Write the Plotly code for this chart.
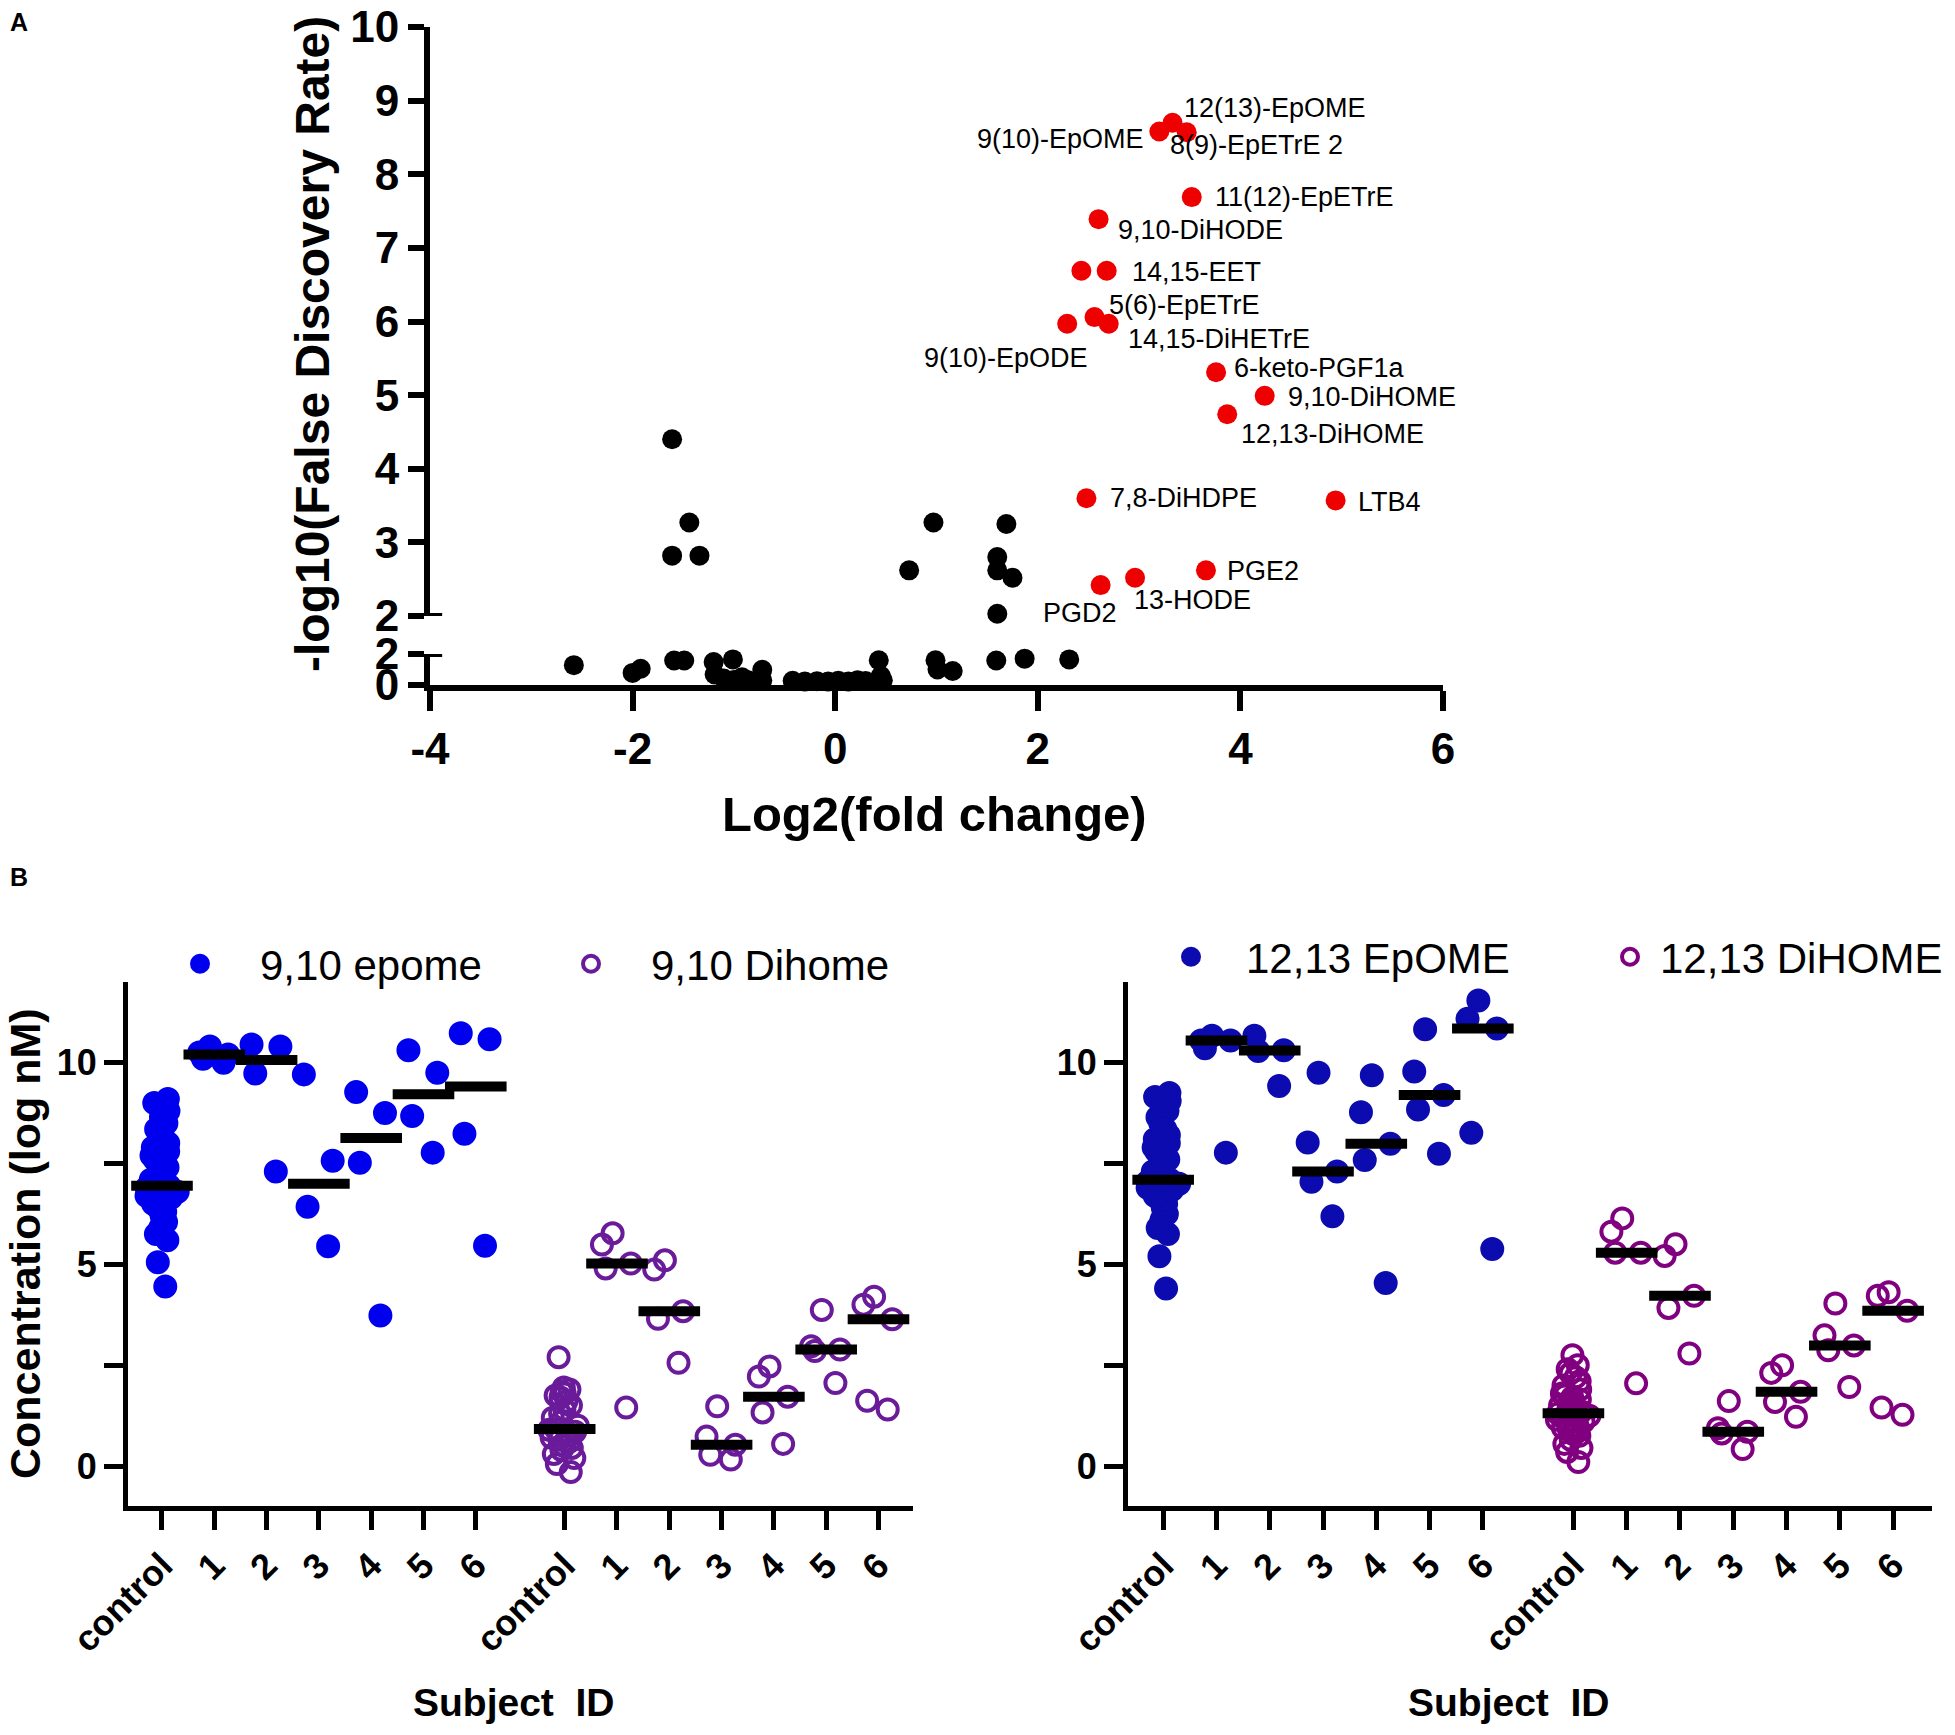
import numpy as np
import plotly.graph_objects as go

FONT = "Liberation Sans, Arial, sans-serif"
W, H = 1955, 1735

# ---------------- panel A : volcano plot ----------------
red_names = ["12(13)-EpOME", "9(10)-EpOME", "8(9)-EpETrE 2", "11(12)-EpETrE", "9,10-DiHODE",
             "", "14,15-EET", "5(6)-EpETrE", "14,15-DiHETrE", "9(10)-EpODE", "6-keto-PGF1a",
             "9,10-DiHOME", "12,13-DiHOME", "7,8-DiHDPE", "LTB4", "PGE2", "13-HODE", "PGD2"]
red_log2fc = [3.33, 3.20, 3.47, 3.52, 2.60, 2.43, 2.68, 2.56, 2.70, 2.29, 3.76,
              4.24, 3.87, 2.48, 4.94, 3.66, 2.96, 2.62]
red_fdr = [8.70, 8.58, 8.57, 7.69, 7.39, 6.69, 6.69, 6.06, 5.97, 5.97, 5.31,
           4.99, 4.74, 3.60, 3.57, 2.62, 2.52, 2.42]

black_log2fc = [-1.61, -1.44, -1.61, -1.34, 0.97, 0.73, 1.69, 1.60, 1.60, 1.75, 1.60,
                -2.58, -2.00, -1.92, -1.59, -1.49, -1.20, -1.01, -1.19, -1.10, -1.00,
                -0.92, -0.86, -0.72, -0.72, -0.42, -0.30, -0.18, -0.07, 0.03, 0.13,
                0.22, 0.30, 0.43, 0.45, 0.47, 0.99, 1.01, 1.16, 1.59, 1.87, 2.31]
black_fdr = [4.40, 3.27, 2.82, 2.82, 3.27, 2.62, 3.25, 2.80, 2.62, 2.52, 2.03,
             1.28, 0.78, 1.05, 1.58, 1.58, 1.48, 1.65, 0.68, 0.42, 0.32,
             0.50, 0.30, 0.98, 0.30, 0.27, 0.22, 0.25, 0.22, 0.28, 0.22,
             0.30, 0.26, 1.60, 0.60, 0.30, 1.60, 1.00, 0.90, 1.58, 1.70, 1.65]

x_ticks = [-4, -2, 0, 2, 4, 6]

# label placement (pixel shifts from the point, anchor side)
label_style = {
    "12(13)-EpOME": (9, 15, "left"), "9(10)-EpOME": (-13, -7, "right"),
    "8(9)-EpETrE 2": (-19, -13, "left"), "11(12)-EpETrE": (21, 0, "left"),
    "9,10-DiHODE": (17, -11, "left"), "14,15-EET": (23, -1, "left"),
    "5(6)-EpETrE": (12, 12, "left"), "14,15-DiHETrE": (17, -15, "left"),
    "9(10)-EpODE": (23, -34, "right"), "6-keto-PGF1a": (16, 4, "left"),
    "9,10-DiHOME": (21, -1, "left"), "12,13-DiHOME": (12, -20, "left"),
    "7,8-DiHDPE": (22, 0, "left"), "LTB4": (20, -2, "left"), "PGE2": (19, -1, "left"),
    "13-HODE": (-3, -22, "left"), "PGD2": (-60, -28, "left"),
}

BREAK = 2

# ---------------- panel B : concentrations ----------------
subjects = ["control", "1", "2", "3", "4", "5", "6"]

epome_910 = [
    [4.45, 5.05, 5.6, 5.75, 5.9, 6.05, 6.2, 6.3, 6.4, 6.5, 6.55, 6.6, 6.65, 6.7, 6.75, 6.8,
     6.85, 6.9, 6.9, 6.95, 6.95, 7.0, 7.05, 7.1, 7.2, 7.3, 7.4, 7.5, 7.6, 7.7, 7.8, 7.9,
     8.0, 8.1, 8.2, 8.35, 8.5, 8.65, 8.8, 9.0, 9.1],
    [10.4, 10.25, 10.2, 10.1, 10.0],
    [10.4, 10.45, 9.73, 7.3],
    [9.71, 7.57, 6.43, 5.45],
    [9.27, 8.75, 7.52, 3.73],
    [10.31, 9.75, 8.68, 7.77],
    [10.73, 10.58, 8.24, 5.46],
]
dihome_910 = [
    [2.7, 1.95, 1.9, 1.85, 1.8, 1.75, 1.7, 1.6, 1.5, 1.4, 1.3, 1.2, 1.1, 1.0, 0.92,
     0.9, 0.85, 0.8, 0.75, 0.7, 0.65, 0.6, 0.5, 0.45, 0.4, 0.3, 0.2, 0.05, -0.15],
    [5.77, 5.49, 5.02, 4.9, 1.45],
    [5.1, 4.87, 3.84, 3.65, 2.56],
    [1.48, 0.73, 0.53, 0.28, 0.16],
    [2.47, 2.22, 1.72, 1.33, 0.55],
    [3.87, 2.97, 2.89, 2.85, 2.06],
    [4.2, 4.0, 3.64, 1.62, 1.4],
]
epome_1213 = [
    [4.4, 5.2, 5.75, 5.9, 6.1, 6.25, 6.4, 6.5, 6.6, 6.7, 6.75, 6.8, 6.85, 6.9, 6.95, 7.0,
     7.0, 7.05, 7.05, 7.1, 7.1, 7.15, 7.2, 7.3, 7.4, 7.5, 7.6, 7.7, 7.8, 7.9, 8.0, 8.1,
     8.2, 8.35, 8.5, 8.65, 8.8, 8.95, 9.05, 9.15, 9.25],
    [10.67, 10.55, 10.55, 10.36, 7.77],
    [10.67, 10.31, 10.29, 9.42],
    [9.75, 8.02, 7.3, 7.05, 6.19],
    [9.69, 8.77, 7.99, 7.59, 4.54],
    [10.83, 9.78, 9.2, 8.84, 7.74],
    [11.54, 11.09, 10.85, 8.26, 5.38],
]
dihome_1213 = [
    [0.1, 0.35, 0.45, 0.55, 0.65, 0.75, 0.8, 0.85, 0.9, 0.95, 1.0, 1.05, 1.1, 1.15, 1.2,
     1.25, 1.28, 1.3, 1.3, 1.32, 1.35, 1.4, 1.45, 1.5, 1.55, 1.6, 1.65, 1.7, 1.75, 1.8,
     1.9, 2.0, 2.1, 2.2, 2.3, 2.4, 2.5, 2.75],
    [6.14, 5.81, 5.29, 5.29, 2.05],
    [5.5, 5.21, 4.22, 3.92, 2.79],
    [1.61, 0.94, 0.85, 0.81, 0.42],
    [2.5, 2.31, 1.84, 1.59, 1.22],
    [4.03, 3.24, 2.99, 2.87, 1.96],
    [4.31, 4.22, 3.85, 1.45, 1.27],
]

RED = "#EE0000"
BLUE_L, BLUE_R = "#0000EE", "#0B0BAF"
PURP_L, PURP_R = "#6A1B9A", "#800080"

GROUP_GAP = 7.7
pos_ep = list(range(7))
pos_di = [GROUP_GAP + i for i in range(7)]


def px_x(p):
    return p / W


def px_y(p):
    return 1 - p / H


fig = go.Figure()

# ---- panel A traces ----
bx, by = np.array(black_log2fc), np.array(black_fdr)
up = by > BREAK
mk = dict(size=20, color="black")
fig.add_trace(go.Scatter(x=bx[up], y=by[up], mode="markers", marker=mk,
                         xaxis="x", yaxis="y", cliponaxis=False, showlegend=False))
fig.add_trace(go.Scatter(x=bx[~up], y=by[~up], mode="markers", marker=mk,
                         xaxis="x", yaxis="y2", cliponaxis=False, showlegend=False))
fig.add_trace(go.Scatter(x=red_log2fc, y=red_fdr, mode="markers",
                         marker=dict(size=20, color=RED), xaxis="x", yaxis="y",
                         cliponaxis=False, showlegend=False))

annotations = []
for name, x, y in zip(red_names, red_log2fc, red_fdr):
    if not name:
        continue
    dx, dy, anchor = label_style[name]
    annotations.append(dict(x=x, y=y, xref="x", yref="y", text=name, showarrow=False,
                            xshift=dx, yshift=dy, xanchor=anchor, yanchor="middle",
                            font=dict(family=FONT, size=27, color="black")))


# ---- panel B traces ----
def add_groups(groups, positions, color, symbol, xa, ya):
    for p, vals in zip(positions, groups):
        fig.add_trace(go.Box(
            x=[p] * len(vals), y=vals, xaxis=xa, yaxis=ya, boxpoints="all",
            jitter=1.0, pointpos=0, width=0.68,
            fillcolor="rgba(0,0,0,0)", line=dict(color="rgba(0,0,0,0)", width=0),
            marker=dict(symbol=symbol, size=20, color=color,
                        line=dict(width=4, color=color)),
            showlegend=False, hoverinfo="y"))


def add_medians(groups, positions, xa, ya):
    fig.add_trace(go.Scatter(
        x=positions, y=[float(np.median(v)) for v in groups], mode="markers",
        xaxis=xa, yaxis=ya, showlegend=False,
        marker=dict(symbol="line-ew", size=44, color="black",
                    line=dict(width=10, color="black"))))


def add_legend_item(name, color, symbol, legend, xa, ya):
    fig.add_trace(go.Scatter(
        x=[None], y=[None], mode="markers", name=name, legend=legend,
        xaxis=xa, yaxis=ya,
        marker=dict(symbol=symbol, size=20, color=color, line=dict(width=4, color=color))))


# left panel: blue dots, bars on top, then open circles
add_groups(epome_910, pos_ep, BLUE_L, "circle", "x2", "y3")
add_medians(epome_910, pos_ep, "x2", "y3")
add_medians(dihome_910, pos_di, "x2", "y3")
add_groups(dihome_910, pos_di, PURP_L, "circle-open", "x2", "y3")
add_legend_item("9,10 epome", BLUE_L, "circle", "legend", "x2", "y3")
add_legend_item("9,10 Dihome", PURP_L, "circle-open", "legend2", "x2", "y3")

# right panel: bars under the points
add_medians(epome_1213, pos_ep, "x3", "y4")
add_medians(dihome_1213, pos_di, "x3", "y4")
add_groups(epome_1213, pos_ep, BLUE_R, "circle", "x3", "y4")
add_groups(dihome_1213, pos_di, PURP_R, "circle-open", "x3", "y4")
add_legend_item("12,13 EpOME", BLUE_R, "circle", "legend3", "x3", "y4")
add_legend_item("12,13 DiHOME", PURP_R, "circle-open", "legend4", "x3", "y4")

# ---------------- axes ----------------
A_tick = dict(family=FONT, size=44, color="black", weight="bold")
A_ax = dict(showline=True, linewidth=6, linecolor="black", ticks="outside",
            tickwidth=6, tickcolor="black", showgrid=False, zeroline=False,
            tickfont=A_tick, fixedrange=True, ticklabeloverflow="allow")
B_tick = dict(family=FONT, size=36, color="black", weight="bold")
B_ax = dict(showline=True, linewidth=5, linecolor="black", ticks="outside",
            tickwidth=5, ticklen=19, tickcolor="black", showgrid=False, zeroline=False,
            tickfont=B_tick, fixedrange=True, ticklabeloverflow="allow")

yB_dom = [px_y(1506), px_y(982)]
fig.update_layout(
    xaxis=dict(A_ax, domain=[px_x(430), px_x(1443)], range=[-4, 6], anchor="y2",
               tickvals=x_ticks, ticktext=[str(v) for v in x_ticks], ticklen=20),
    yaxis=dict(A_ax, domain=[px_y(616), px_y(27)], range=[BREAK, 10.0001], anchor="x",
               tickvals=list(range(2, 11)), ticklen=16),
    yaxis2=dict(A_ax, domain=[px_y(685), px_y(654)], range=[0, BREAK], anchor="x",
                tickvals=[0, 2], ticklen=16),
    xaxis2=dict(B_ax, domain=[px_x(128), px_x(913)], range=[-0.65, 14.36], anchor="y3",
                tickvals=pos_ep + pos_di, ticktext=subjects * 2, tickangle=-45),
    yaxis3=dict(B_ax, domain=yB_dom, range=[-0.99, 12], anchor="x2",
                tickvals=[0, 2.5, 5, 7.5, 10], ticktext=["0", "", "5", "", "10"]),
    xaxis3=dict(B_ax, domain=[px_x(1128), px_x(1932)], range=[-0.66, 14.43], anchor="y4",
                tickvals=pos_ep + pos_di, ticktext=subjects * 2, tickangle=-45),
    yaxis4=dict(B_ax, domain=yB_dom, range=[-0.99, 12], anchor="x3",
                tickvals=[0, 2.5, 5, 7.5, 10], ticktext=["0", "", "5", "", "10"]),
)

# break caps on the split y axis
for yr in ("y", "y2"):
    fig.add_shape(type="line", xref="x domain", yref=yr, x0=0, x1=0.012, y0=BREAK, y1=BREAK,
                  line=dict(color="black", width=6))


# ---------------- titles ----------------
def title(text, x, y, size, angle=0, weight="bold"):
    annotations.append(dict(text=text, x=px_x(x), y=px_y(y), xref="paper", yref="paper",
                            showarrow=False, textangle=angle, xanchor="center", yanchor="middle",
                            font=dict(family=FONT, size=size, color="black", weight=weight)))


title("-log10(False Discovery Rate)", 312, 344, 48, -90)
title("Log2(fold change)", 934, 814, 49)
title("Concentration (log nM)", 25, 1244, 43, -90)
title("Subject\u00a0\u00a0ID", 514, 1702, 39)
title("Subject\u00a0\u00a0ID", 1509, 1702, 39)
title("A", 19, 22, 25)
title("B", 19, 877, 25)

leg_font = dict(family=FONT, size=42, color="black")


def legend_box(sym_x, sym_y, itemwidth):
    return dict(x=px_x(sym_x - 5 - itemwidth / 2), y=px_y(sym_y), xanchor="left",
                yanchor="middle", orientation="h", font=leg_font, itemwidth=itemwidth,
                bgcolor="rgba(0,0,0,0)", borderwidth=0)


fig.update_layout(
    width=W, height=H, margin=dict(l=0, r=0, t=0, b=0, autoexpand=False),
    paper_bgcolor="white", plot_bgcolor="white",
    font=dict(family=FONT, color="black"),
    boxmode="overlay",
    annotations=annotations,
    legend=legend_box(200, 964, 110),
    legend2=legend_box(591, 964, 110),
    legend3=legend_box(1191, 957, 100),
    legend4=legend_box(1630, 957, 50),
)

fig.write_html("out.html", config={"displayModeBar": False},
               post_script="document.body.style.margin='0';document.body.style.overflow='hidden';")
